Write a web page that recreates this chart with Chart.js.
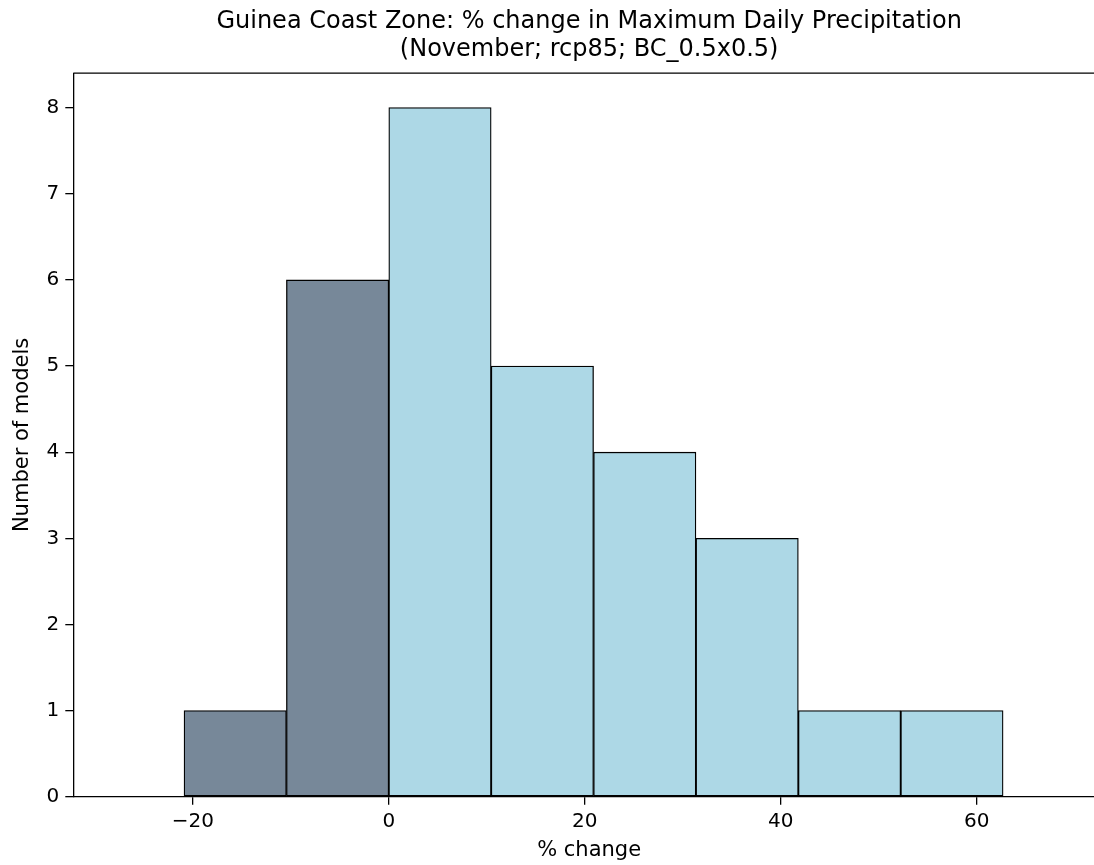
<!DOCTYPE html>
<html>
<head>
<meta charset="utf-8">
<script src="https://cdn.jsdelivr.net/npm/chart.js@4.4.1/dist/chart.umd.min.js"></script>
<style>
  html, body { margin: 0; padding: 0; background: #fff; overflow: hidden; }
  #wrap { width: 1094px; height: 865px; overflow: hidden; position: relative; }
  #box { width: 1110px; height: 865px; position: absolute; left: 0; top: 0; }
</style>
</head>
<body>
<div id="wrap"><div id="box"><canvas id="myChart"></canvas></div></div>
<script>
// histogram data
const binEdges = [-20.9, -10.45, 0, 10.45, 20.9, 31.35, 41.8, 52.25, 62.7];
const modelCounts = [1, 6, 8, 5, 4, 3, 1, 1];
const xTicks = [-20, 0, 20, 40, 60];
const yTicks = [0, 1, 2, 3, 4, 5, 6, 7, 8];

const titleLines = [
    'Guinea Coast Zone: % change in Maximum Daily Precipitation',
    '(November; rcp85; BC_0.5x0.5)'
];

const negColor = '#778899';
const posColor = '#add8e6';

// bars sit on bin centres, width comes from the bin spacing
const bars = modelCounts.map((c, i) => ({ x: (binEdges[i] + binEdges[i + 1]) / 2, y: c }));
const barColors = modelCounts.map((c, i) => binEdges[i + 1] <= 0 ? negColor : posColor);

const fontFamily = '"DejaVu Sans", "Liberation Sans", sans-serif';

// top spine (matplotlib box)
const frame = {
    id: 'frame',
    afterDraw(chart) {
        const a = chart.chartArea;
        const ctx = chart.ctx;
        ctx.save();
        ctx.strokeStyle = '#000';
        ctx.lineWidth = 1.3;
        ctx.beginPath();
        ctx.moveTo(a.left, a.top);
        ctx.lineTo(a.right, a.top);
        ctx.lineTo(a.right, a.bottom);
        ctx.stroke();
        ctx.restore();
    }
};

const ctx = document.getElementById('myChart').getContext('2d');
const myChart = new Chart(ctx, {
    type: 'bar',
    data: {
        datasets: [{
            data: bars,
            backgroundColor: barColors,
            borderColor: '#000',
            borderWidth: 1.3,
            borderSkipped: false,
            barPercentage: 1,
            categoryPercentage: 1
        }]
    },
    options: {
        responsive: true,
        maintainAspectRatio: false,
        animation: false,
        layout: { padding: { left: 0, right: 5, top: 0, bottom: 0 } },
        plugins: {
            legend: { display: false },
            tooltip: { enabled: false },
            title: {
                display: true,
                fullSize: false,
                text: titleLines,
                color: '#000',
                font: { family: fontFamily, size: 24, weight: 'normal', lineHeight: 1.15 },
                padding: { top: 8, bottom: 10 }
            }
        },
        scales: {
            x: {
                type: 'linear',
                offset: false,
                min: -32.2,
                max: 73.1,
                afterBuildTicks: s => { s.ticks = xTicks.map(v => ({ value: v })); },
                afterFit: s => { s.height = 68.3; },
                ticks: {
                    color: '#000',
                    padding: 5,
                    maxRotation: 0,
                    font: { family: fontFamily, size: 20 },
                    callback: v => String(v).replace('-', '\u2212')
                },
                grid: { display: true, offset: false, drawOnChartArea: false, drawTicks: true, tickLength: 8, color: '#000', lineWidth: 1.3 },
                border: { display: true, color: '#000', width: 1.3 },
                title: {
                    display: true,
                    text: '% change',
                    color: '#000',
                    font: { family: fontFamily, size: 21 },
                    padding: { top: 0, bottom: 2 }
                }
            },
            y: {
                min: 0,
                max: 8.4,
                afterBuildTicks: s => { s.ticks = yTicks.map(v => ({ value: v })); },
                afterFit: s => { s.width = 73.3; },
                ticks: {
                    color: '#000',
                    padding: 6,
                    font: { family: fontFamily, size: 20 }
                },
                grid: { display: true, drawOnChartArea: false, drawTicks: true, tickLength: 8, color: '#000', lineWidth: 1.3 },
                border: { display: true, color: '#000', width: 1.3 },
                title: {
                    display: true,
                    text: 'Number of models',
                    color: '#000',
                    font: { family: fontFamily, size: 21 },
                    padding: { top: 10, bottom: 0 }
                }
            }
        }
    },
    plugins: [frame]
});
</script>
</body>
</html>
